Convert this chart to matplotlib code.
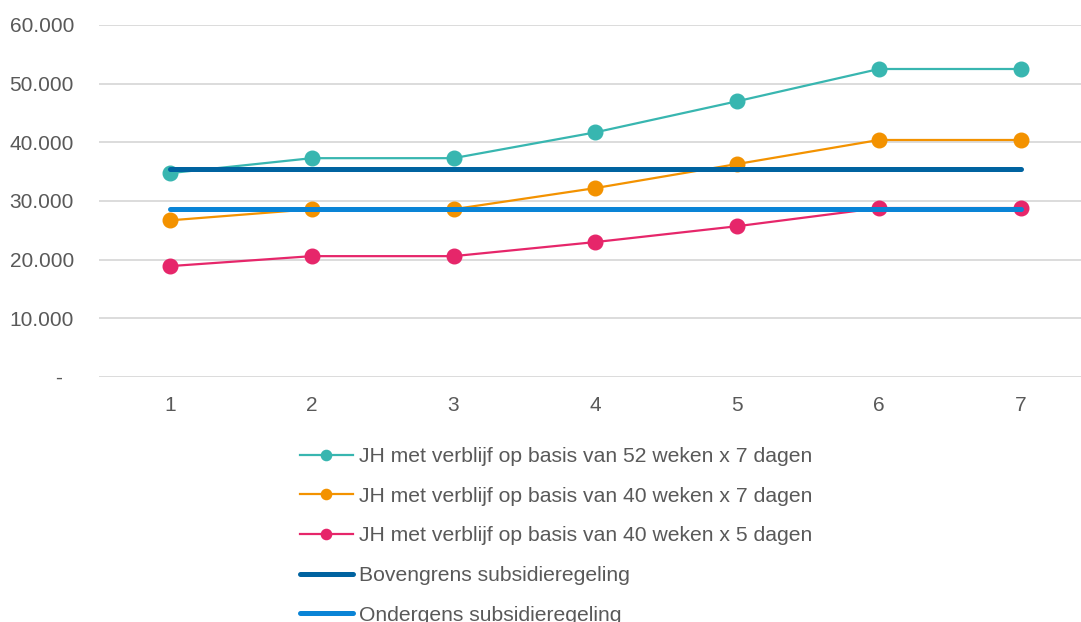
import matplotlib.pyplot as plt
from matplotlib.ticker import FuncFormatter

plt.rcParams['font.family'] = ['Liberation Sans', 'DejaVu Sans']

# data
jaren = [1, 2, 3, 4, 5, 6, 7]
jh_52x7 = [34750, 37300, 37300, 41700, 47000, 52500, 52500]
jh_40x7 = [26700, 28600, 28600, 32200, 36300, 40400, 40400]
jh_40x5 = [18900, 20600, 20600, 23000, 25700, 28800, 28800]
bovengrens = [35400] * 7
ondergrens = [28600] * 7

labels = ["JH met verblijf op basis van 52 weken x 7 dagen",
          "JH met verblijf op basis van 40 weken x 7 dagen",
          "JH met verblijf op basis van 40 weken x 5 dagen",
          "Bovengrens subsidieregeling",
          "Ondergens subsidieregeling"]
colors = ["#38b6b0", "#f39200", "#e6266a", "#0063a0", "#0a84d6"]

fig = plt.figure(figsize=(10.81, 6.22), dpi=100)
ax = fig.add_axes([99 / 1081, 1 - 377 / 622, 1 - 99 / 1081, (377 - 25) / 622])

series = [jh_52x7, jh_40x7, jh_40x5]
for vals, lab, col in zip(series, labels[:3], colors[:3]):
    ax.plot(jaren, vals, color=col, lw=1.6, marker='o', markersize=10.5,
            label=lab, zorder=3)
ax.plot(jaren, bovengrens, color=colors[3], lw=3.6, label=labels[3],
        solid_capstyle='round', zorder=4)
ax.plot(jaren, ondergrens, color=colors[4], lw=3.6, label=labels[4],
        solid_capstyle='round', zorder=4)

def fmt(v, pos):
    if v == 0:
        return "-  "
    return f"{int(v):,}".replace(",", ".")

ax.set_ylim(0, 60000)
ax.set_yticks(range(0, 60001, 10000))
ax.yaxis.set_major_formatter(FuncFormatter(fmt))
ax.set_xlim(0.5, 0.5 + (1081 - 99) / 141.8)
ax.set_xticks(jaren)

ax.grid(axis='y', color='#d9d9d9', lw=1.3)
ax.set_axisbelow(True)
for s in ax.spines.values():
    s.set_visible(False)
ax.tick_params(axis='both', length=0, colors='#595959', labelsize=15)
ax.tick_params(axis='y', pad=18)
ax.tick_params(axis='x', pad=14)

fig.legend(loc='upper left', bbox_to_anchor=(300 / 1081, 1 - 447 / 622),
           frameon=False, fontsize=15.2, labelcolor='#595959', markerscale=0.7,
           handlelength=2.5, handletextpad=0.3, labelspacing=0.98,
           borderaxespad=0, borderpad=0)

fig.savefig("out.png", dpi=100)
